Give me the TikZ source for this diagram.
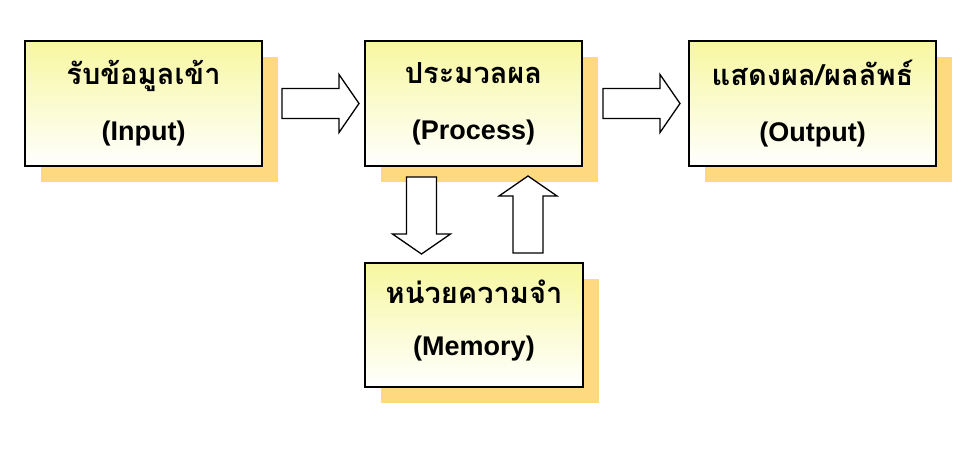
\documentclass[tikz,border=0pt]{standalone}
\usepackage{fontspec}
\setmainfont{Liberation Sans}
\newfontfamily\thaifont[Script=Thai]{Loma}
\newcommand{\thaiword}[1]{{\thaifont\fontsize{29}{56}\selectfont #1}}
\usetikzlibrary{shadows,calc}
\definecolor{boxtop}{RGB}{247,247,160}
\definecolor{shadowfill}{RGB}{255,217,128}
\tikzset{
  unitbox/.style={draw,line width=2pt,top color=boxtop,bottom color=white,
    minimum height=125pt,inner sep=0pt,align=center,
    font=\bfseries\fontsize{27}{56}\selectfont,
    drop shadow={shadow xshift=16pt,shadow yshift=-16pt,fill=shadowfill,opacity=1}},
  blockarrow/.pic={
    \draw[line width=1.3pt,fill=white] (0,-15) -- (57,-15) -- (57,-29) -- (77,0)
      -- (57,29) -- (57,15) -- (0,15) -- cycle;}
}
\begin{document}
\begin{tikzpicture}[x=1pt,y=-1pt]
  \useasboundingbox (0,0) rectangle (966,453);
  \node[unitbox,minimum width=237pt] (input) at (143.5,103.5)
    {\thaiword{รับข้อมูลเข้า}\\(Input)};
  \node[unitbox,minimum width=217pt] (process) at (473.5,103.5)
    {\thaiword{ประมวลผล}\\(Process)};
  \node[unitbox,minimum width=247pt] (output) at (812.5,103.5)
    {\thaiword{แสดงผล/ผลลัพธ์}\\(Output)};
  \node[unitbox,minimum width=218pt,minimum height=124pt] (memory) at (474,325)
    {\thaiword{หน่วยความจำ}\\[-4pt](Memory)\rule[-14pt]{0pt}{1pt}};

  \pic at ($(input.east)+(19,0)$) {blockarrow};
  \pic at ($(process.east)+(20,0)$) {blockarrow};
  \pic[rotate=-90] at ($(process.south)+(-52,10)$) {blockarrow};
  \pic[rotate=90] at ($(memory.north)+(54,-9)$) {blockarrow};
\end{tikzpicture}
\end{document}
